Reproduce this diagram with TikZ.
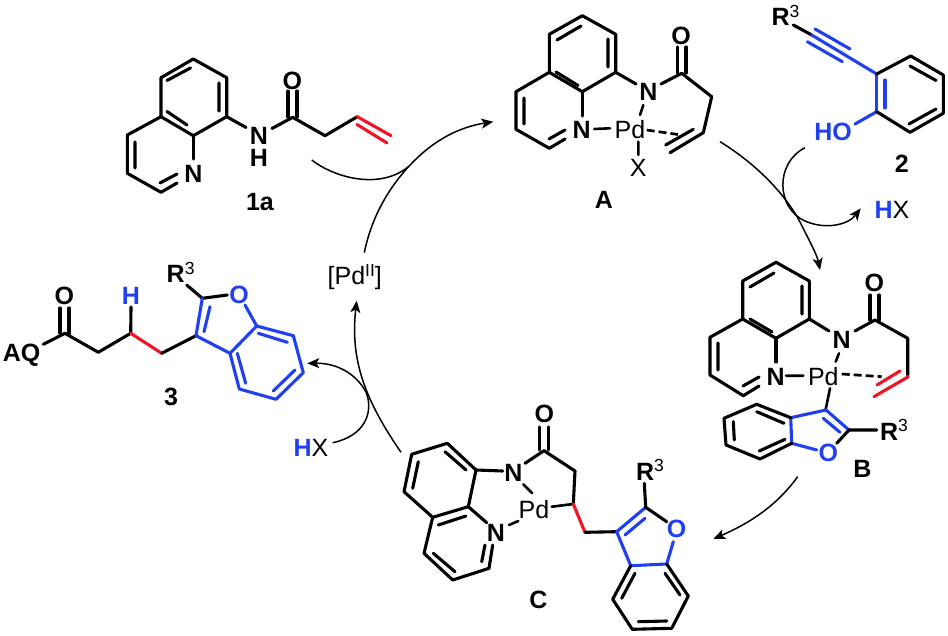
\documentclass[tikz,border=0pt]{standalone}
\usepackage{fontspec}
\setmainfont{Liberation Sans}
\usetikzlibrary{arrows.meta}
\definecolor{hblue}{RGB}{32,64,240}
\definecolor{hred}{RGB}{240,20,35}
\newcommand{\supnum}[1]{\raisebox{8.5pt}{\fontsize{17.5}{17.5}\selectfont\mdseries\color{black}#1}}
\tikzset{
  x=1pt,y=-1pt,
  bond/.style={line width=3.1pt,line join=round,line cap=round,black},
  bluebond/.style={bond,hblue},
  redbond/.style={bond,hred},
  dashbond/.style={line width=2.7pt,dash pattern=on 8pt off 4pt,black},
  thinarc/.style={line width=1.5pt,black},
  arrowarc/.style={thinarc,-{Stealth[length=12pt,width=10pt,inset=3pt]}},
  lab/.style={inner sep=0pt,outer sep=0pt,font=\fontsize{25}{25}\selectfont,anchor=base},
  atom/.style={lab,font=\fontsize{25}{25}\selectfont\bfseries},
  blueatom/.style={atom,text=hblue},
  rlab/.style={lab,anchor=base west,font=\fontsize{25}{25}\selectfont\bfseries}
}
\begin{document}
\begin{tikzpicture}
\useasboundingbox (0,0) rectangle (948,636);
% ---------- 1a ----------
\draw[bond] (193.3,59)--(226.7,77.7)--(226.7,116.7)--(193.3,135.7)--(161,116.7)--(161,77.7)--cycle;
\draw[bond] (167,80.5)--(190.5,68) (219,83)--(219,111) (167,111.5)--(187,125);
\draw[bond] (161,116.7)--(127.3,135)--(127.3,173.3)--(161,192.3)--(177,183);
\draw[bond] (193.3,135.7)--(193.3,159);
\draw[bond] (135,142)--(135,168) (160,183)--(177,174);
\draw[bond] (226.7,116.7)--(246,127.5) (272,128.5)--(292.7,117.3)--(325,135.7)--(357.3,116.7);
\draw[bond] (288,91)--(288,117) (297,91)--(297,117);
\draw[redbond] (357.3,116.7)--(391,135.7) (357,124.5)--(387,143);
\node[atom] (n1a) at (193.3,182.7) {N};
\node[atom] (nh1a) at (259,145) {N};
\node[atom] (h1a) at (259,166.7) {H};
\node[atom] (o1a) at (292.3,90) {O};
\node[atom] (l1a) at (260,210.7) {1a};
% ---------- A ----------
\draw[bond] (582.3,15.7)--(615.7,34.3)--(615.7,72.3)--(582.3,91.7)--(549.3,72.3)--(549.3,34.3)--cycle;
\draw[bond] (557,40)--(581,26) (608,39)--(608,67) (556,72)--(578,85.5);
\draw[bond] (549.3,72.3)--(516,91.7)--(516,129.3)--(549.3,148.3)--(565,139);
\draw[bond] (582.3,91.7)--(582.3,116);
\draw[bond] (524,98)--(524,124) (549,139)--(565,130);
\draw[bond] (615.7,72.3)--(636,84) (661,84)--(681.7,73.3)--(711.7,96.7)--(703.3,132.7)--(670,152.7);
\draw[bond] (665.7,145)--(693.3,129.3);
\draw[bond] (677.5,47)--(677.5,73) (686,47)--(686,73);
\draw[bond,line width=2.6pt] (643.3,105)--(640,115) (594.3,129)--(610,128.3) (638.3,141.7)--(638.3,155);
\draw[dashbond] (646.7,130)--(678,134.5);
\node[atom] (na1) at (581.7,138.3) {N};
\node[atom] (na2) at (648.3,101) {N};
\node[atom] (oa) at (681,45) {O};
\node[lab] (pda) at (630,138.3) {Pd};
\node[lab] (xa) at (638.3,176.7) {X};
\node[atom] (la) at (604,208.3) {A};
% ---------- 2 ----------
\draw[bond] (793.3,25)--(811.7,35);
\draw[bluebond] (811.7,35)--(876.7,74) (815,29)--(850,49) (807.3,41.7)--(842.3,61.7);
\draw[bluebond] (876.7,74)--(876.7,111.7) (885,80)--(885,108);
\draw[bluebond] (855,124)--(876.7,111.7);
\draw[bond] (876.7,74)--(910.7,56)--(943.3,75)--(943.3,113.3)--(910,132.3)--(876.7,111.7);
\draw[bond] (910,66)--(936,80.5) (936,109)--(909,124);
\node[rlab] (r2) at (771.5,26) {R\supnum{3}};
\node[blueatom] (ho) at (833,140.7) {HO};
\node[atom] (l2) at (901.7,172.7) {2};
\node[lab] (hx1) at (892,218.3) {\textcolor{hblue}{\bfseries H}X};
% ---------- B ----------
\draw[bond] (776,262.3)--(809.3,281)--(809.3,319)--(776,338.3)--(742.7,319)--(742.7,281)--cycle;
\draw[bond] (750,287)--(774,273) (802,286)--(802,314) (750,319)--(772,332);
\draw[bond] (742.7,319)--(710,337.3)--(710,375)--(743.3,395.7)--(759,386);
\draw[bond] (776,338.3)--(776,362);
\draw[bond] (718,343)--(718,370) (743,386)--(759,377);
\draw[bond] (809.3,319)--(829,331) (855,331)--(875,320)--(907.7,338.3)--(907.7,375);
\draw[bond] (870,295)--(870,320) (879,295)--(879,320);
\draw[redbond] (908.3,376.7)--(874,396.7) (900,371)--(877,385);
\draw[bond,line width=2.6pt] (786,375.7)--(803.3,375.7) (839,353.3)--(835.7,361.7) (830,388.3)--(825.7,409.3);
\draw[dashbond] (841.7,374)--(881.7,376.7);
\draw[bluebond] (790.7,417.7)--(826,410)--(849,430) (823.3,418.3)--(840,432.3);
\draw[bluebond] (790.7,417.7)--(791.7,443.3)--(816.7,450);
\draw[bond] (790.7,417.7)--(756.7,404.3)--(724,418.3)--(726,445)--(760,459)--(791.7,443.3);
\draw[bond] (756.7,411.7)--(784,423.3) (733.3,421.7)--(734.3,440) (759.3,451)--(785,439.3);
\draw[bond] (836.7,443.3)--(849,430)--(876.7,430);
\node[atom] (nb1) at (775.7,385) {N};
\node[atom] (nb2) at (841.7,348.3) {N};
\node[atom] (ob) at (874.3,291.7) {O};
\node[lab] (pdb) at (823.3,385) {Pd};
\node[blueatom] (ofb) at (828.3,461.7) {O};
\node[rlab] (rb) at (880,440) {R\supnum{3}};
\node[atom] (lb) at (862.3,477.7) {B};
% ---------- C ----------
\draw[bond] (447.3,443.3)--(476,470)--(468.3,506.7)--(432.7,517.3)--(404,491.7)--(411.7,454.3)--cycle;
\draw[bond] (445,451.7)--(466,470) (418.3,461.7)--(412.7,488.3) (438.3,525)--(466,516);
\draw[bond] (432.7,517.3)--(424,553.3)--(452.7,580)--(489,568.3)--(492.7,545);
\draw[bond] (433.3,553.3)--(455,571.7) (485,545)--(481.7,561.7);
\draw[bond] (468.3,506.7)--(486.7,522.7);
\draw[bond] (476,470)--(502.7,471) (525,463.3)--(544,450.7)--(575,471)--(573.3,504);
\draw[bond] (539.5,427)--(539.5,450) (548.5,427)--(548.5,450);
\draw[bond,line width=2.6pt] (523.3,484.3)--(532.3,493.3) (509,525)--(518.3,521) (551.7,506.7)--(573.3,504);
\draw[redbond] (573.3,504)--(585,532.3);
\draw[bond] (585,532.3)--(616.7,531.7);
\draw[bluebond] (616.7,531.7)--(645.7,507.3) (625,535)--(645,518.3);
\draw[bluebond] (616.7,531.7)--(630.7,565.7)--(666.7,564)--(673.3,541.7);
\draw[bond] (644.3,483.3)--(645.7,507.3)--(666.7,521.7);
\draw[bond] (630.7,565.7)--(612.7,599.3)--(632.3,629.3)--(671.7,628.3)--(688.3,596)--(666.7,564);
\draw[bond] (635,573.3)--(621.7,598.3) (638.3,621.7)--(666.7,621) (665,573.3)--(680,595);
\node[atom] (nc1) at (513.3,481) {N};
\node[atom] (nc2) at (496,541.7) {N};
\node[lab] (pdc) at (534,518.3) {Pd};
\node[atom] (oc) at (544.3,422.3) {O};
\node[blueatom] (ofc) at (676.7,537.7) {O};
\node[rlab] (rc) at (636,480) {R\supnum{3}};
\node[atom] (lc) at (538.3,608.3) {C};
% ---------- 3 ----------
\draw[bond] (43.3,344.3)--(65,333.3)--(98.3,352.3)--(130.7,333.3)--(131,307);
\draw[redbond] (130.7,333.3)--(161.7,353.3);
\draw[bond] (161.7,353.3)--(196,335.7);
\draw[bond] (60,308)--(60,333) (69,308)--(69,334);
\draw[bond] (186.7,285)--(202.3,298.3)--(227.3,295);
\draw[bluebond] (202.3,298.3)--(196,335.7)--(230,353.3)--(256.7,326)--(245,305);
\draw[bluebond] (210,306.7)--(204,331.7);
\draw[bluebond] (256.7,326)--(293.3,335.7)--(303.3,372.7)--(276,399.3)--(239.3,389)--(230,353.3);
\draw[bluebond] (258.3,333.3)--(287.3,342.3) (295,370)--(273.3,391) (245.7,383.3)--(237.3,353.3);
\node[atom] (aq) at (21.7,361.7) {AQ};
\node[atom] (o3) at (64.3,305) {O};
\node[blueatom] (h3) at (131,305) {H};
\node[blueatom] (of3) at (239,303.3) {O};
\node[rlab] (r3) at (166.7,282.7) {R\supnum{3}};
\node[atom] (l3) at (171,405) {3};
% ---------- cycle ----------
\node[lab,anchor=base west] (pd2) at (327.7,285) {[Pd\supnum{II}]};
\node[lab] (hx2) at (311,456.7) {\textcolor{hblue}{\bfseries H}X};
% arrows
\draw[thinarc] (311.7,160) .. controls (335,178) and (380,190) .. (408.3,166.7);
\draw[arrowarc] (364.3,252.7) .. controls (373,210) and (395,180) .. (414,161) .. controls (436,139) and (460,127) .. (493.3,121.7);
\draw[arrowarc] (720,141.7) .. controls (758,165) and (788,197) .. (802,226) .. controls (811,244) and (817,255) .. (820,270);
\draw[arrowarc] (805,147.7) .. controls (775,163) and (776,208) .. (805,221) .. controls (825,230) and (848,225) .. (860.7,208.3);
\draw[arrowarc] (797.7,476.7) .. controls (777,505) and (752,522) .. (713.3,539);
\draw[arrowarc] (401,452.3) .. controls (365,400) and (350,360) .. (356.7,300.7);
\draw[arrowarc] (332.7,442.7) .. controls (365,436) and (374,412) .. (366,392) .. controls (355,372) and (335,363) .. (307.3,363.3);
\end{tikzpicture}
\end{document}
